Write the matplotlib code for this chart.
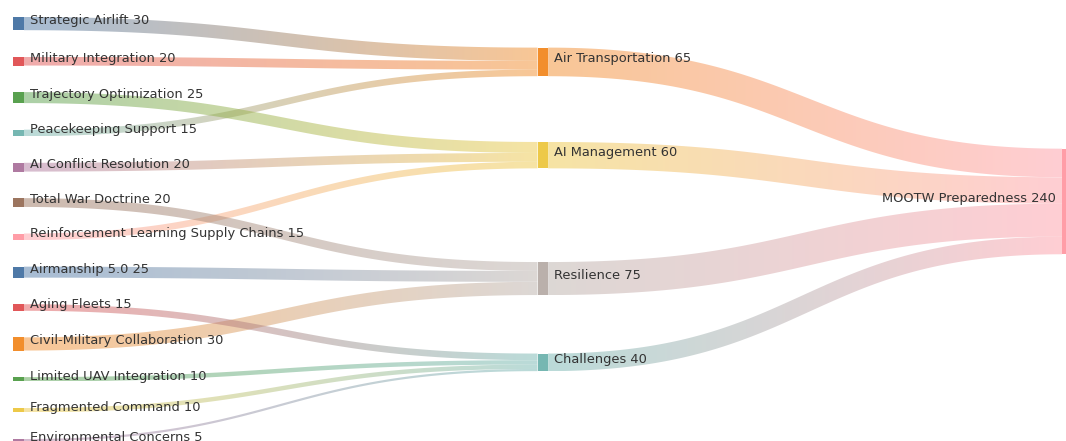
import numpy as np
import matplotlib
matplotlib.use("Agg")
import matplotlib.pyplot as plt
from matplotlib.patches import Rectangle, Polygon
from matplotlib.colors import to_rgb

# ---------------- data ----------------
node_names = [
    "Strategic Airlift", "Military Integration", "Trajectory Optimization",
    "Peacekeeping Support", "AI Conflict Resolution", "Total War Doctrine",
    "Reinforcement Learning Supply Chains", "Airmanship 5.0", "Aging Fleets",
    "Civil-Military Collaboration", "Limited UAV Integration", "Fragmented Command",
    "Environmental Concerns",
    "Air Transportation", "AI Management", "Resilience", "Challenges",
    "MOOTW Preparedness",
]

link_source = [
    "Strategic Airlift", "Military Integration", "Peacekeeping Support",
    "Trajectory Optimization", "AI Conflict Resolution", "Reinforcement Learning Supply Chains",
    "Total War Doctrine", "Airmanship 5.0", "Civil-Military Collaboration",
    "Aging Fleets", "Limited UAV Integration", "Fragmented Command", "Environmental Concerns",
    "Air Transportation", "AI Management", "Resilience", "Challenges",
]
link_target = [
    "Air Transportation", "Air Transportation", "Air Transportation",
    "AI Management", "AI Management", "AI Management",
    "Resilience", "Resilience", "Resilience",
    "Challenges", "Challenges", "Challenges", "Challenges",
    "MOOTW Preparedness", "MOOTW Preparedness", "MOOTW Preparedness", "MOOTW Preparedness",
]
link_value = [30, 20, 15, 25, 20, 15, 20, 25, 30, 15, 10, 10, 5, 65, 60, 75, 40]

# ---------------- style ----------------
node_colors = {
    "Strategic Airlift": "#4e79a7", "Air Transportation": "#f28e2c",
    "Military Integration": "#e15759", "Peacekeeping Support": "#76b7b2",
    "Trajectory Optimization": "#59a14f", "AI Management": "#edc949",
    "AI Conflict Resolution": "#af7aa1", "Reinforcement Learning Supply Chains": "#ff9da7",
    "Total War Doctrine": "#9c755f", "Resilience": "#bab0ab",
    "Airmanship 5.0": "#4e79a7", "Civil-Military Collaboration": "#f28e2c",
    "Aging Fleets": "#e15759", "Challenges": "#76b7b2",
    "Limited UAV Integration": "#59a14f", "Fragmented Command": "#edc949",
    "Environmental Concerns": "#af7aa1", "MOOTW Preparedness": "#ff9da7",
}
W_PX, H_PX = 1066, 441
EXTENT = (13.0, 17.0, 1072.6, 441.2)   # x0, y0, x1, y1 of the sankey layout (pixels)
NODE_W = 10.6
NODE_PAD = 26.55
LINK_ALPHA = 0.5
LABEL_OFFSET = 6
FONT_PT = 9.4
TEXT_COLOR = "#333333"


# ---------------- layout (d3-sankey style) ----------------
def sankey_layout(names, srcs, tgts, vals, ext, node_w, node_pad, iterations=6):
    X0, Y0, X1, Y1 = ext
    idx = {nm: i for i, nm in enumerate(names)}
    nodes = [dict(index=i, name=nm, sl=[], tl=[]) for i, nm in enumerate(names)]
    links = []
    for k, (s, t, v) in enumerate(zip(srcs, tgts, vals)):
        L = dict(index=k, source=nodes[idx[s]], target=nodes[idx[t]], value=v)
        L["source"]["sl"].append(L)
        L["target"]["tl"].append(L)
        links.append(L)
    for nd in nodes:
        nd["value"] = max(sum(l["value"] for l in nd["sl"]), sum(l["value"] for l in nd["tl"]))
    depth = [0] * len(nodes)
    changed = True
    while changed:
        changed = False
        for L in links:
            s, t = L["source"]["index"], L["target"]["index"]
            if depth[t] < depth[s] + 1:
                depth[t] = depth[s] + 1
                changed = True
    maxd = max(depth)
    for nd in nodes:
        nd["layer"] = depth[nd["index"]] if nd["sl"] else maxd
    kx = (X1 - X0 - node_w) / maxd
    columns = [[nd for nd in nodes if nd["layer"] == c] for c in range(maxd + 1)]
    for nd in nodes:
        nd["x0"] = X0 + nd["layer"] * kx
        nd["x1"] = nd["x0"] + node_w
    py = min(node_pad, (Y1 - Y0) / (max(len(c) for c in columns) - 1))
    ky = min((Y1 - Y0 - (len(c) - 1) * py) / sum(nd["value"] for nd in c) for c in columns)
    for L in links:
        L["width"] = L["value"] * ky

    def sort_links(nd):
        nd["sl"].sort(key=lambda l: (l["target"]["y0"], l["index"]))
        nd["tl"].sort(key=lambda l: (l["source"]["y0"], l["index"]))

    def reorder_node_links(nd):
        for l in nd["tl"]:
            l["source"]["sl"].sort(key=lambda q: (q["target"]["y0"], q["index"]))
        for l in nd["sl"]:
            l["target"]["tl"].sort(key=lambda q: (q["source"]["y0"], q["index"]))

    for c in columns:
        y = Y0
        for nd in c:
            nd["y0"] = y
            nd["y1"] = y + nd["value"] * ky
            y = nd["y1"] + py
        y = (Y1 - y + py) / (len(c) + 1)
        for i, nd in enumerate(c):
            nd["y0"] += y * (i + 1)
            nd["y1"] += y * (i + 1)
    for nd in nodes:
        sort_links(nd)

    def shift(nd, d):
        nd["y0"] += d
        nd["y1"] += d

    def ttb(col, y, i, a):
        while i < len(col):
            nd = col[i]
            d = (y - nd["y0"]) * a
            if d > 1e-6:
                shift(nd, d)
            y = nd["y1"] + py
            i += 1

    def btt(col, y, i, a):
        while i >= 0:
            nd = col[i]
            d = (nd["y1"] - y) * a
            if d > 1e-6:
                shift(nd, -d)
            y = nd["y0"] - py
            i -= 1

    def resolve(col, a):
        i = len(col) >> 1
        subj = col[i]
        btt(col, subj["y0"] - py, i - 1, a)
        ttb(col, subj["y1"] + py, i + 1, a)
        btt(col, Y1, len(col) - 1, a)
        ttb(col, Y0, 0, a)

    def target_top(source, target):
        y = source["y0"] - (len(source["sl"]) - 1) * py / 2
        for l in source["sl"]:
            if l["target"] is target:
                break
            y += l["width"] + py
        for l in target["tl"]:
            if l["source"] is source:
                break
            y -= l["width"]
        return y

    def source_top(source, target):
        y = target["y0"] - (len(target["tl"]) - 1) * py / 2
        for l in target["tl"]:
            if l["source"] is source:
                break
            y += l["width"] + py
        for l in source["sl"]:
            if l["target"] is target:
                break
            y -= l["width"]
        return y

    for it in range(iterations):
        alpha = 0.99 ** it
        beta = max(1 - alpha, (it + 1) / iterations)
        for ci in range(len(columns) - 2, -1, -1):
            col = columns[ci]
            for src in col:
                y = w = 0.0
                for l in src["sl"]:
                    v = l["value"] * (l["target"]["layer"] - src["layer"])
                    y += source_top(src, l["target"]) * v
                    w += v
                if w > 0:
                    shift(src, (y / w - src["y0"]) * alpha)
                    reorder_node_links(src)
            resolve(col, beta)
        for ci in range(1, len(columns)):
            col = columns[ci]
            for tgt in col:
                y = w = 0.0
                for l in tgt["tl"]:
                    v = l["value"] * (tgt["layer"] - l["source"]["layer"])
                    y += target_top(l["source"], tgt) * v
                    w += v
                if w > 0:
                    shift(tgt, (y / w - tgt["y0"]) * alpha)
                    reorder_node_links(tgt)
            resolve(col, beta)

    for nd in nodes:
        y0 = y1 = nd["y0"]
        for l in nd["sl"]:
            l["y0"] = y0 + l["width"] / 2
            y0 += l["width"]
        for l in nd["tl"]:
            l["y1"] = y1 + l["width"] / 2
            y1 += l["width"]
    return nodes, links, maxd


nodes, links, maxd = sankey_layout(node_names, link_source, link_target, link_value,
                                   EXTENT, NODE_W, NODE_PAD)

# ---------------- drawing ----------------
fig = plt.figure(figsize=(W_PX / 100, H_PX / 100), dpi=100)
ax = fig.add_axes([0, 0, 1, 1])
ax.axis("off")


def draw_link(L):
    xs, xt = L["source"]["x1"], L["target"]["x0"]
    ys, yt = L["y0"], L["y1"]
    w = L["width"]
    xm = (xs + xt) / 2
    t = np.linspace(0, 1, 240)
    bx = (1 - t) ** 3 * xs + 3 * (1 - t) ** 2 * t * xm + 3 * (1 - t) * t ** 2 * xm + t ** 3 * xt
    by = (1 - t) ** 3 * ys + 3 * (1 - t) ** 2 * t * ys + 3 * (1 - t) * t ** 2 * yt + t ** 3 * yt
    dx = 3 * (1 - t) ** 2 * (xm - xs) + 3 * t ** 2 * (xt - xm)
    dy = 6 * (1 - t) * t * (yt - ys)
    nrm = np.hypot(dx, dy)
    nx, ny = -dy / nrm, dx / nrm
    top = np.column_stack([bx + nx * w / 2, by + ny * w / 2])
    bot = np.column_stack([bx - nx * w / 2, by - ny * w / 2])
    poly = np.vstack([top, bot[::-1]])
    patch = Polygon(poly, closed=True, facecolor="none", edgecolor="none")
    ax.add_patch(patch)
    xl, xr = poly[:, 0].min(), poly[:, 0].max()
    yl, yr = poly[:, 1].min(), poly[:, 1].max()
    n = 400
    xx = np.linspace(xl, xr, n)
    f = np.clip((xx - xs) / (xt - xs), 0, 1)
    c0 = np.array(to_rgb(node_colors[L["source"]["name"]]))
    c1 = np.array(to_rgb(node_colors[L["target"]["name"]]))
    grad = np.zeros((1, n, 4))
    grad[0, :, :3] = (1 - f)[:, None] * c0 + f[:, None] * c1
    grad[0, :, 3] = LINK_ALPHA
    im = ax.imshow(grad, extent=(xl, xr, yr, yl), aspect="auto",
                   interpolation="bilinear", zorder=1)
    im.set_clip_path(patch)


for L in links:
    draw_link(L)

for nd in nodes:
    ax.add_patch(Rectangle((nd["x0"], nd["y0"]), nd["x1"] - nd["x0"], nd["y1"] - nd["y0"],
                           facecolor=node_colors[nd["name"]], edgecolor="none", zorder=3))
    label = f"{nd['name']} {nd['value']}"
    yc = (nd["y0"] + nd["y1"]) / 2 + 0.5
    if nd["layer"] < maxd:
        ax.text(nd["x1"] + LABEL_OFFSET, yc, label, ha="left", va="baseline",
                fontsize=FONT_PT, color=TEXT_COLOR, family="DejaVu Sans", zorder=4)
    else:
        ax.text(nd["x0"] - LABEL_OFFSET, yc, label, ha="right", va="baseline",
                fontsize=FONT_PT, color=TEXT_COLOR, family="DejaVu Sans", zorder=4)

ax.set_xlim(0, W_PX)
ax.set_ylim(H_PX, 0)
fig.savefig("out.png", dpi=100)
